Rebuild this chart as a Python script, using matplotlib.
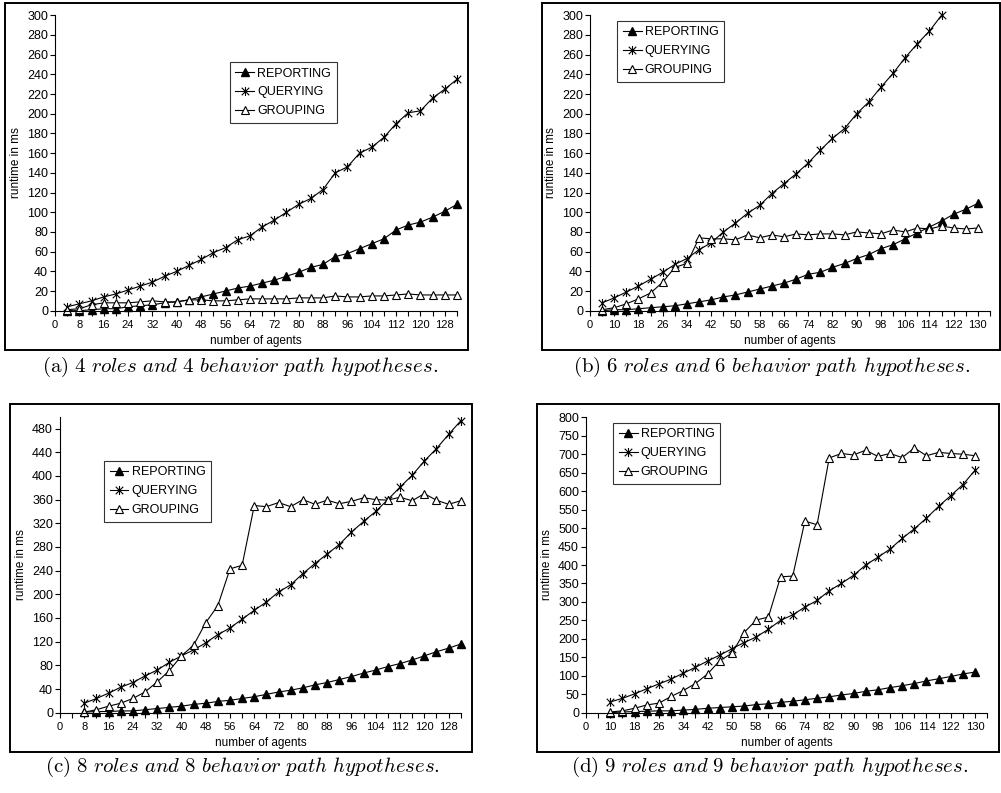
# Runtime vs number of agents for four role/hypothesis configurations (Excel-style line charts).
import matplotlib

matplotlib.use("Agg")
import matplotlib.pyplot as plt
from matplotlib.patches import Rectangle
from matplotlib.path import Path

plt.rcParams["font.family"] = ["Liberation Sans", "DejaVu Sans"]
plt.rcParams["mathtext.fontset"] = "cm"

W, H = 1001, 793

# x categories (Excel category axis, one tick per category, label on every other)
CATS_4 = list(range(0, 133, 4))                 # panels (a), (c)
CATS_6 = [0, 6] + list(range(10, 135, 4))       # panels (b), (d)

# (a) 4 roles
A_AGENTS = list(range(4, 133, 4))
A_REPORTING = [0, 0, 1, 2, 2, 4, 5, 6, 8, 9, 11, 14, 17, 20, 23, 25, 28, 31, 35, 39,
               44, 47, 55, 58, 63, 68, 73, 82, 87, 90, 95, 101, 108]
A_QUERYING = [4, 7, 10, 14, 17, 21, 25, 29, 35, 40, 46, 52, 59, 64, 72, 76, 85, 92, 100, 108,
              114, 123, 140, 146, 160, 166, 176, 190, 201, 203, 216, 225, 235]
A_GROUPING = [1, 2, 6, 8, 8, 8, 9, 10, 9, 9, 11, 11, 10, 10, 11, 12, 12, 12, 12, 13,
              13, 13, 15, 14, 14, 15, 15, 16, 17, 16, 16, 16, 16]

# (b) 6 roles
B_AGENTS = [6] + list(range(10, 131, 4))
B_REPORTING = [0, 1, 1, 2, 3, 4, 5, 7, 9, 11, 14, 16, 19, 22, 25, 28, 32, 37, 39, 44,
               48, 53, 57, 63, 67, 73, 79, 85, 91, 98, 103, 109]
B_QUERYING = [8, 13, 19, 25, 32, 39, 47, 53, 62, 69, 80, 89, 99, 107, 119, 129, 139, 150, 163, 175,
              185, 200, 212, 227, 241, 257, 271, 284, 300]
B_GROUPING = [1, 3, 7, 12, 18, 29, 44, 48, 74, 73, 73, 72, 77, 74, 77, 75, 78, 77, 78, 78,
              77, 80, 79, 78, 82, 80, 84, 83, 86, 84, 83, 84]

# (c) 8 roles
C_AGENTS = list(range(8, 133, 4))
C_REPORTING = [1, 2, 2, 3, 3, 5, 7, 9, 11, 14, 16, 19, 21, 24, 27, 31, 35, 38, 42, 47,
               51, 56, 61, 67, 72, 78, 83, 89, 96, 103, 109, 116]
C_QUERYING = [16, 24, 33, 43, 51, 62, 72, 85, 96, 106, 118, 132, 143, 158, 173, 187, 204, 216, 235, 252,
              268, 284, 305, 323, 340, 360, 381, 401, 425, 446, 470, 493]
C_GROUPING = [1, 5, 11, 16, 24, 35, 52, 71, 96, 114, 152, 181, 243, 249, 350, 348, 355, 348, 360, 352,
              359, 353, 357, 363, 360, 359, 364, 358, 370, 359, 352, 358]

# (d) 9 roles
D_AGENTS = list(range(10, 131, 4))
D_REPORTING = [0, 2, 3, 4, 5, 5, 7, 9, 12, 14, 16, 18, 22, 24, 28, 31, 35, 39, 43, 48,
               52, 58, 62, 68, 73, 79, 86, 92, 98, 105, 110]
D_QUERYING = [29, 39, 51, 65, 78, 91, 107, 123, 140, 156, 173, 190, 205, 226, 250, 265, 286, 304, 330, 350,
              372, 400, 421, 443, 472, 498, 527, 559, 588, 618, 657]
D_GROUPING = [2, 5, 12, 21, 26, 44, 60, 79, 105, 141, 161, 217, 251, 259, 368, 370, 519, 509, 690, 702,
              698, 711, 694, 702, 691, 717, 696, 705, 702, 700, 696]

CAPTIONS = [
    r"$\mathrm{(a)}\ \mathit{4\ roles\ and\ 4\ behavior\ path\ hypotheses.}$",
    r"$\mathrm{(b)}\ \mathit{6\ roles\ and\ 6\ behavior\ path\ hypotheses.}$",
    r"$\mathrm{(c)}\ \mathit{8\ roles\ and\ 8\ behavior\ path\ hypotheses.}$",
    r"$\mathrm{(d)}\ \mathit{9\ roles\ and\ 9\ behavior\ path\ hypotheses.}$",
]

# Excel "star" marker: x with a vertical bar
STAR = Path([(-1, -1), (1, 1), (-1, 1), (1, -1), (0, -1.2), (0, 1.2)],
            [Path.MOVETO, Path.LINETO, Path.MOVETO, Path.LINETO, Path.MOVETO, Path.LINETO])


def px_rect(fig, x0, y0, x1, y1):
    fig.add_artist(Rectangle((x0 / W, 1 - y1 / H), (x1 - x0) / W, (y1 - y0) / H,
                             transform=fig.transFigure, fill=False, lw=1.4, ec="black"))


def px_axes(fig, x0, y0, x1, y1):
    return fig.add_axes([x0 / W, 1 - y1 / H, (x1 - x0) / W, (y1 - y0) / H])


def panel(ax, cats, agents, rep, qry, grp, ymax, ystep, ytop, leg_xy):
    kw = dict(color="black", lw=0.8, clip_on=False)
    for vals, lab, mk in [(rep, "REPORTING", "rep"), (qry, "QUERYING", "qry"), (grp, "GROUPING", "grp")]:
        xs = [cats.index(a) for a in agents[:len(vals)]]
        if mk == "rep":
            ax.plot(xs, vals, marker="^", ms=6, mfc="black", mec="black", label=lab, **kw)
        elif mk == "qry":
            ax.plot(xs, vals, marker=STAR, ms=6.5, mfc="none", mec="black", mew=0.8, label=lab, **kw)
        else:
            ax.plot(xs, vals, marker="^", ms=6, mfc="white", mec="black", mew=0.8, label=lab, **kw)

    ax.set_xlim(0, len(cats) - 1)
    ax.set_ylim(0, ymax)
    ax.set_xticks(range(len(cats)))
    ax.set_xticklabels([str(c) if i % 2 == 0 else "" for i, c in enumerate(cats)], fontsize=8)
    ax.set_yticks(range(0, ytop + 1, ystep))
    ax.tick_params(axis="both", direction="out", length=3.5, width=0.8, color="black")
    ax.tick_params(axis="x", pad=3.5)
    ax.tick_params(axis="y", pad=1.5, labelsize=9)
    for s in ("top", "right"):
        ax.spines[s].set_visible(False)
    for s in ("left", "bottom"):
        ax.spines[s].set_linewidth(0.8)
    ax.set_facecolor("none")

    ax.set_ylabel("runtime in ms", fontsize=8.5)
    ax.yaxis.set_label_coords(-33 / 402, 0.5)
    ax.set_xlabel("number of agents", fontsize=8.5)
    ax.xaxis.set_label_coords(0.5, -24 / 296)

    leg = ax.legend(loc="upper left", bbox_to_anchor=leg_xy, fontsize=9, frameon=True,
                    fancybox=False, edgecolor="black", borderpad=0.45, labelspacing=0.55,
                    handlelength=1.5, handletextpad=0.25, borderaxespad=0)
    leg.get_frame().set_linewidth(0.8)


def main():
    fig = plt.figure(figsize=(W / 100, H / 100), dpi=100)
    fig.patch.set_facecolor("white")

    # chart-area borders
    px_rect(fig, 5, 3, 467.5, 350.5)
    px_rect(fig, 541.5, 3, 999.5, 350.5)
    px_rect(fig, 10, 404, 471.5, 752)
    px_rect(fig, 536.5, 404, 999, 752)

    ax = px_axes(fig, 55, 15.3, 457, 310.7)
    panel(ax, CATS_4, A_AGENTS, A_REPORTING, A_QUERYING, A_GROUPING, 300, 20, 300, (0.435, 0.842))

    ax = px_axes(fig, 590, 15.3, 990, 310.7)
    panel(ax, CATS_6, B_AGENTS, B_REPORTING, B_QUERYING, B_GROUPING, 300, 20, 300, (0.068, 0.982))

    ax = px_axes(fig, 60, 416.7, 460.7, 712.7)
    panel(ax, CATS_4, C_AGENTS, C_REPORTING, C_QUERYING, C_GROUPING, 500, 40, 480, (0.11, 0.851))

    ax = px_axes(fig, 586, 417.3, 987.3, 712.7)
    panel(ax, CATS_6, D_AGENTS, D_REPORTING, D_QUERYING, D_GROUPING, 800, 50, 800, (0.068, 0.982))

    for (cx, cy), cap in zip([(240, 367), (772, 367), (242, 767), (770, 767)], CAPTIONS):
        fig.text(cx / W, 1 - cy / H, cap, ha="center", va="center", fontsize=15)

    fig.savefig("out.png", dpi=100)


if __name__ == "__main__":
    main()
